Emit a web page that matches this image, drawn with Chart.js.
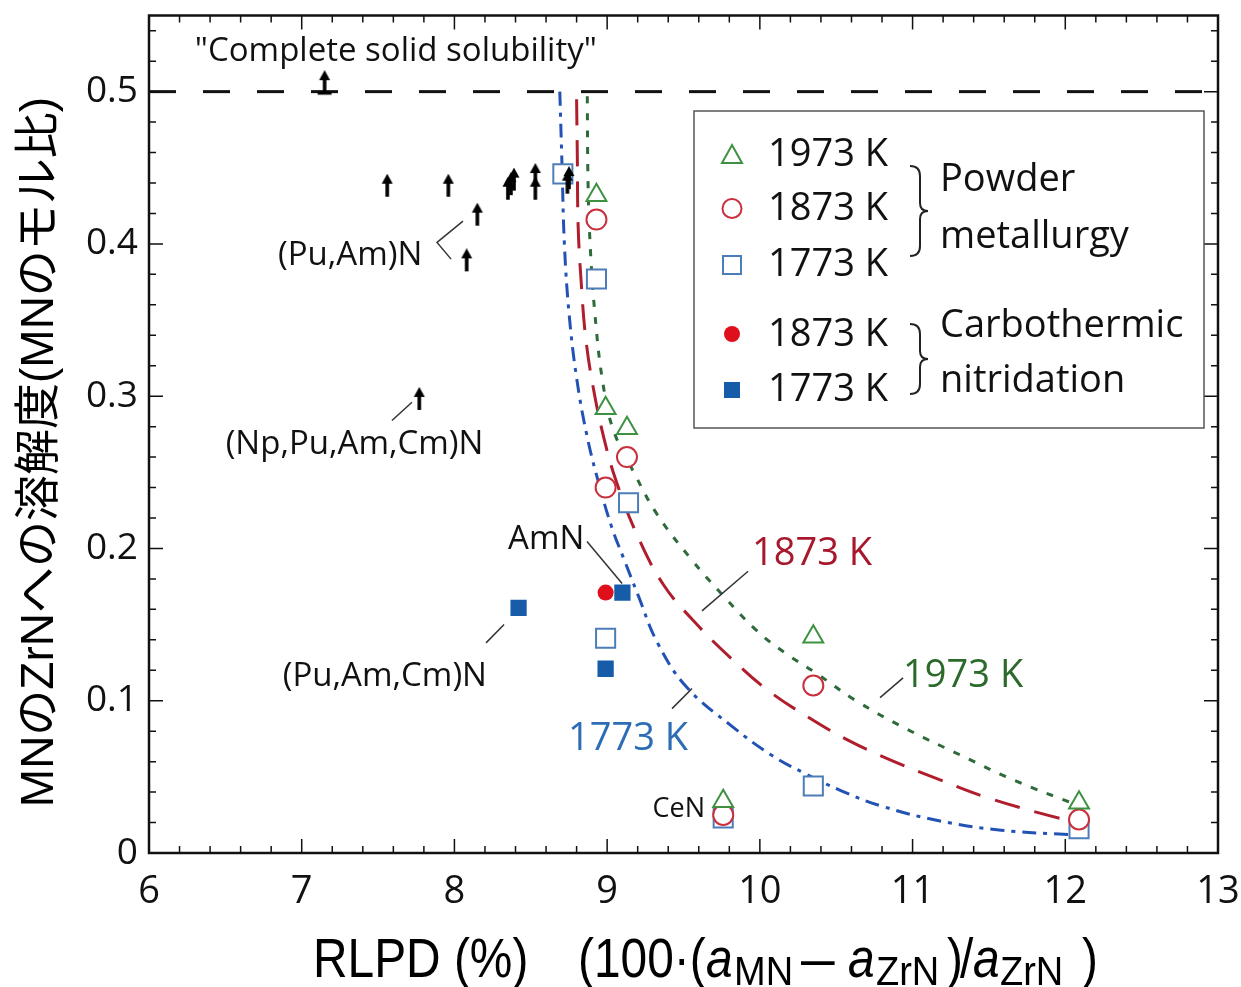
<!DOCTYPE html>
<html>
<head>
<meta charset="utf-8">
<script src="https://cdn.jsdelivr.net/npm/chart.js@4.4.1/dist/chart.umd.min.js"></script>
<style>
  html, body { margin: 0; padding: 0; background: #fff; }
</style>
</head>
<body>
<canvas id="myChart" width="1241" height="987"></canvas>
<script>
// tick values
var xTicks = [6, 7, 8, 9, 10, 11, 12, 13];
var yTicks = [0, 0.1, 0.2, 0.3, 0.4, 0.5];

// powder metallurgy (open marks) [RLPD, solubility]
var pm1973 = [[8.93, 0.432], [8.99, 0.292], [9.13, 0.279], [10.35, 0.142], [9.76, 0.034], [12.09, 0.033]];
var pm1873 = [[8.93, 0.416], [9.13, 0.260], [8.99, 0.240], [10.35, 0.110], [9.76, 0.025], [12.09, 0.022]];
var pm1773 = [[8.71, 0.446], [8.93, 0.377], [9.14, 0.230], [8.99, 0.141], [10.35, 0.044], [9.76, 0.023], [12.09, 0.016]];

// carbothermic nitridation (filled marks)
var cn1873 = [[8.99, 0.171]];
var cn1773 = [[8.42, 0.161], [9.10, 0.171], [8.99, 0.121]];

// lower limits (arrows), and the one on the "complete solid solubility" line
var lowerLimits = [[7.56, 0.431], [7.96, 0.431], [8.35, 0.429], [8.37, 0.432], [8.39, 0.435],
                   [8.53, 0.429], [8.53, 0.438], [8.74, 0.433], [8.75, 0.436],
                   [8.15, 0.412], [8.08, 0.382], [7.77, 0.291]];
var completeMark = [[7.15, 0.499]];
var completeLine = [[6, 0.5], [13, 0.5]];

// fitted curves
var fit1773 = [[8.69, 0.500], [8.705, 0.45], [8.72, 0.40], [8.75, 0.355], [8.80, 0.312], [8.87, 0.273],
               [8.95, 0.241], [9.03, 0.214], [9.11, 0.193], [9.20, 0.170], [9.33, 0.138], [9.52, 0.109],
               [9.82, 0.083], [10.08, 0.064], [10.30, 0.052], [10.53, 0.041], [10.79, 0.031],
               [11.18, 0.021], [11.58, 0.015], [12.03, 0.012]];
var fit1873 = [[8.80, 0.495], [8.805, 0.455], [8.81, 0.412], [8.83, 0.375], [8.86, 0.338], [8.91, 0.305],
               [8.98, 0.272], [9.06, 0.244], [9.20, 0.208], [9.37, 0.176], [9.57, 0.152], [9.81, 0.128],
               [10.05, 0.107], [10.32, 0.089], [10.58, 0.074], [10.88, 0.060], [11.18, 0.048],
               [11.47, 0.037], [11.84, 0.026], [12.08, 0.020]];
var fit1973 = [[8.87, 0.497], [8.875, 0.44], [8.89, 0.397], [8.92, 0.354], [8.97, 0.310], [9.04, 0.278],
               [9.18, 0.249], [9.33, 0.222], [9.55, 0.193], [9.76, 0.169], [9.98, 0.146], [10.17, 0.131],
               [10.37, 0.118], [10.63, 0.100], [10.95, 0.082], [11.32, 0.064], [11.66, 0.048], [12.09, 0.031]];

var GREEN = "#3f9142", GREEN_LINE = "#2e6a3a", GREEN_TXT = "#2b6a2b";
var RED = "#c9303e", RED_LINE = "#b01e2e", RED_TXT = "#a8182c";
var BLUE = "#4d7db8", BLUE_LINE = "#2352b5", BLUE_TXT = "#2d6db5";
var RED_FILL = "#e00f1c", BLUE_FILL = "#175ca8";
var FONT = "'Open Sans', 'Noto Sans', sans-serif";

function toXY(arr) {
  return arr.map(function (p) { return { x: p[0], y: p[1] }; });
}

// arrow image, base of the shaft sits at the centre of the canvas
function makeArrow(withBar) {
  var len = 23;
  var c = document.createElement("canvas");
  c.width = 18;
  c.height = len * 2;
  var g = c.getContext("2d");
  g.fillStyle = "#000";
  g.fillRect(7.2, 8, 3.6, len - 8);
  g.beginPath();
  g.moveTo(9, 0);
  g.lineTo(14.5, 10);
  g.lineTo(3.5, 10);
  g.closePath();
  g.fill();
  if (withBar) g.fillRect(2, len - 1.5, 14, 3);
  return c;
}

function curve(data, color, dash) {
  return {
    type: "line",
    data: toXY(data),
    borderColor: color,
    borderWidth: 3,
    borderDash: dash,
    pointRadius: 0,
    tension: 0.4,
    fill: false,
    order: 10,
  };
}

// inward ticks on all four sides + frame
var frameTicks = {
  id: "frameTicks",
  afterDatasetsDraw: function (chart) {
    var ctx = chart.ctx, a = chart.chartArea;
    var xs = chart.scales.x, ys = chart.scales.y;
    ctx.save();
    ctx.strokeStyle = "#111";
    ctx.lineWidth = 1.5;
    ctx.beginPath();
    for (var i = 0; i <= 35; i++) {
      var p = xs.getPixelForValue(6 + i * 0.2);
      var len = i % 5 === 0 ? 14 : 7;
      ctx.moveTo(p, a.bottom); ctx.lineTo(p, a.bottom - len);
      ctx.moveTo(p, a.top); ctx.lineTo(p, a.top + len);
    }
    for (var j = 0; j <= 27; j++) {
      var q = ys.getPixelForValue(j * 0.02);
      var l2 = j % 5 === 0 ? 14 : 7;
      ctx.moveTo(a.left, q); ctx.lineTo(a.left + l2, q);
      ctx.moveTo(a.right, q); ctx.lineTo(a.right - l2, q);
    }
    ctx.stroke();
    ctx.lineWidth = 2.5;
    ctx.strokeRect(a.left, a.top, a.right - a.left, a.bottom - a.top);
    ctx.restore();
  },
};

// labels, leader lines, legend, axis titles
var notes = {
  id: "notes",
  afterDraw: function (chart) {
    var ctx = chart.ctx;
    var xs = chart.scales.x, ys = chart.scales.y;
    function X(v) { return xs.getPixelForValue(v); }
    function Y(v) { return ys.getPixelForValue(v); }
    function text(s, x, y, align, size, color) {
      ctx.font = size + "px " + FONT;
      ctx.fillStyle = color || "#111";
      ctx.textAlign = align;
      ctx.textBaseline = "middle";
      ctx.fillText(s, x, y);
    }
    function line(pts, color) {
      ctx.beginPath();
      ctx.strokeStyle = color || "#333";
      ctx.lineWidth = 1.5;
      ctx.moveTo(X(pts[0][0]), Y(pts[0][1]));
      for (var k = 1; k < pts.length; k++) ctx.lineTo(X(pts[k][0]), Y(pts[k][1]));
      ctx.stroke();
    }
    ctx.save();

    text("\"Complete solid solubility\"", X(6.30), Y(0.526), "left", 33);
    text("(Pu,Am)N", X(7.79), Y(0.392), "right", 33);
    line([[8.056, 0.415], [7.886, 0.401], [7.978, 0.390]]);
    text("(Np,Pu,Am,Cm)N", X(8.19), Y(0.268), "right", 33);
    line([[7.591, 0.284], [7.722, 0.296]]);
    text("AmN", X(8.351), Y(0.206), "left", 33);
    line([[8.868, 0.2046], [9.098, 0.177]]);
    text("(Pu,Am,Cm)N", X(8.213), Y(0.116), "right", 33);
    line([[8.207, 0.138], [8.325, 0.150]]);
    text("CeN", X(9.641), Y(0.029), "right", 27);

    text("1873 K", X(9.949), Y(0.196), "left", 38, RED_TXT);
    line([[9.621, 0.159], [9.923, 0.185]]);
    text("1973 K", X(10.938), Y(0.116), "left", 38, GREEN_TXT);
    line([[10.787, 0.102], [10.938, 0.115]]);
    text("1773 K", X(8.744), Y(0.075), "left", 38, BLUE_TXT);
    line([[9.425, 0.0948], [9.556, 0.108]]);

    // legend box
    ctx.strokeStyle = "#555";
    ctx.lineWidth = 1.5;
    ctx.strokeRect(694, 111, 510, 317);
    var mx = 732;
    ctx.lineWidth = 2;
    ctx.strokeStyle = GREEN;
    ctx.beginPath();
    ctx.moveTo(mx, 145); ctx.lineTo(mx + 10, 163); ctx.lineTo(mx - 10, 163); ctx.closePath();
    ctx.stroke();
    ctx.strokeStyle = RED;
    ctx.beginPath(); ctx.arc(mx, 208.5, 9.5, 0, Math.PI * 2); ctx.stroke();
    ctx.strokeStyle = BLUE;
    ctx.strokeRect(mx - 9, 256, 18, 18);
    ctx.fillStyle = RED_FILL;
    ctx.beginPath(); ctx.arc(mx, 334, 8, 0, Math.PI * 2); ctx.fill();
    ctx.fillStyle = BLUE_FILL;
    ctx.fillRect(mx - 8, 382, 16, 16);

    text("1973 K", 768, 155, "left", 38);
    text("1873 K", 768, 209, "left", 38);
    text("1773 K", 768, 265, "left", 38);
    text("1873 K", 768, 335, "left", 38);
    text("1773 K", 768, 390, "left", 38);
    text("Powder", 940, 180, "left", 38);
    text("metallurgy", 940, 237, "left", 38);
    text("Carbothermic", 940, 326, "left", 38);
    text("nitridation", 940, 381, "left", 38);

    function brace(x, y1, y2) {
      var m = (y1 + y2) / 2, w = 10;
      ctx.beginPath();
      ctx.strokeStyle = "#222";
      ctx.lineWidth = 2;
      ctx.moveTo(x, y1);
      ctx.quadraticCurveTo(x + w, y1, x + w, y1 + 10);
      ctx.lineTo(x + w, m - 8);
      ctx.quadraticCurveTo(x + w, m, x + w + 8, m);
      ctx.quadraticCurveTo(x + w, m, x + w, m + 8);
      ctx.lineTo(x + w, y2 - 10);
      ctx.quadraticCurveTo(x + w, y2, x, y2);
      ctx.stroke();
    }
    brace(910, 166, 256);
    brace(910, 324, 394);

    // y title
    ctx.save();
    ctx.translate(40, 452);
    ctx.rotate(-Math.PI / 2);
    ctx.font = "46px 'Liberation Sans', 'Noto Sans CJK JP', sans-serif";
    ctx.fillStyle = "#000";
    ctx.textAlign = "center";
    ctx.textBaseline = "middle";
    ctx.fillText("MNのZrNへの溶解度(MNのモル比)", 0, 0);
    ctx.restore();

    // x title: narrow Arial look, italic a and subscripts
    var parts = [
      ["RLPD (%)", "n", 313], ["(100\u00b7(", "n", 578], ["a", "i", 706], ["MN", "s", 734],
      ["\u2013", "n", 801], ["a", "i", 848], ["ZrN", "s", 876], [")", "n", 947], ["/", "n", 960],
      ["a", "i", 973], ["ZrN", "s", 1000], [")", "n", 1082],
    ];
    ctx.fillStyle = "#000";
    ctx.textAlign = "left";
    ctx.textBaseline = "alphabetic";
    parts.forEach(function (p) {
      var sub = p[1] === "s";
      var sx = 0.87;
      if (sub) { ctx.font = "40px 'Liberation Sans', sans-serif"; sx = 0.95; }
      else if (p[1] === "i") ctx.font = "italic 55px 'Liberation Sans', sans-serif";
      else ctx.font = "55px 'Liberation Sans', sans-serif";
      if (p[0] === "\u2013") sx = 1.1;
      ctx.save();
      ctx.translate(p[2], sub ? 985 : 977);
      ctx.scale(sx, 1);
      ctx.fillText(p[0], 0, 0);
      ctx.restore();
    });

    ctx.restore();
  },
};

var ctx = document.getElementById("myChart").getContext("2d");
var arrowImg = makeArrow(false);
var arrowBarImg = makeArrow(true);

var myChart = new Chart(ctx, {
  type: "scatter",
  data: {
    datasets: [
      {
        label: "1973 K PM",
        data: toXY(pm1973),
        pointStyle: "triangle",
        pointRadius: 11.5,
        borderColor: GREEN,
        backgroundColor: "#fff",
        borderWidth: 2,
        order: 1,
      },
      {
        label: "1873 K PM",
        data: toXY(pm1873),
        pointStyle: "circle",
        pointRadius: 10,
        borderColor: RED,
        backgroundColor: "#fff",
        borderWidth: 2,
        order: 2,
      },
      {
        label: "1773 K PM",
        data: toXY(pm1773),
        pointStyle: "rect",
        pointRadius: 13.5,
        borderColor: BLUE,
        backgroundColor: "#fff",
        borderWidth: 2,
        order: 3,
      },
      {
        label: "1873 K CN",
        data: toXY(cn1873),
        pointStyle: "circle",
        pointRadius: 8,
        borderWidth: 0,
        backgroundColor: RED_FILL,
        order: 1,
      },
      {
        label: "1773 K CN",
        data: toXY(cn1773),
        pointStyle: "rect",
        pointRadius: 11.5,
        borderWidth: 0,
        backgroundColor: BLUE_FILL,
        order: 1,
      },
      {
        label: "lower limits",
        data: toXY(lowerLimits),
        pointStyle: arrowImg,
        order: 0,
      },
      {
        label: "complete",
        data: toXY(completeMark),
        pointStyle: arrowBarImg,
        order: 0,
      },
      {
        type: "line",
        label: "0.5 line",
        data: toXY(completeLine),
        borderColor: "#111",
        borderWidth: 3,
        borderDash: [27, 27],
        pointRadius: 0,
        order: 11,
      },
      curve(fit1773, BLUE_LINE, [14, 7, 4, 7]),
      curve(fit1873, RED_LINE, [26, 15]),
      curve(fit1973, GREEN_LINE, [7, 10]),
    ],
  },
  options: {
    responsive: false,
    animation: false,
    events: [],
    layout: { padding: { top: 13, right: 23, left: 0, bottom: 0 } },
    plugins: {
      legend: { display: false },
      tooltip: { enabled: false },
    },
    scales: {
      x: {
        type: "linear",
        min: 6,
        max: 13,
        afterFit: function (s) {
          s.height = 134;
          s.paddingLeft = 0;
          s.paddingRight = 0;
        },
        afterBuildTicks: function (s) { s.ticks = xTicks.map(function (v) { return { value: v }; }); },
        grid: { display: false, drawTicks: false },
        border: { display: false },
        ticks: {
          font: { family: FONT, size: 38 },
          color: "#111",
          padding: 16,
        },
      },
      y: {
        type: "linear",
        min: 0,
        max: 0.55,
        afterFit: function (s) {
          s.width = 149;
          s.paddingTop = 0;
          s.paddingBottom = 0;
        },
        afterBuildTicks: function (s) { s.ticks = yTicks.map(function (v) { return { value: v }; }); },
        grid: { display: false, drawTicks: false },
        border: { display: false },
        ticks: {
          font: { family: FONT, size: 37 },
          color: "#111",
          padding: 11,
          callback: function (v) { return v === 0 ? "0" : v.toFixed(1); },
        },
      },
    },
  },
  plugins: [frameTicks, notes],
});
</script>
</body>
</html>
